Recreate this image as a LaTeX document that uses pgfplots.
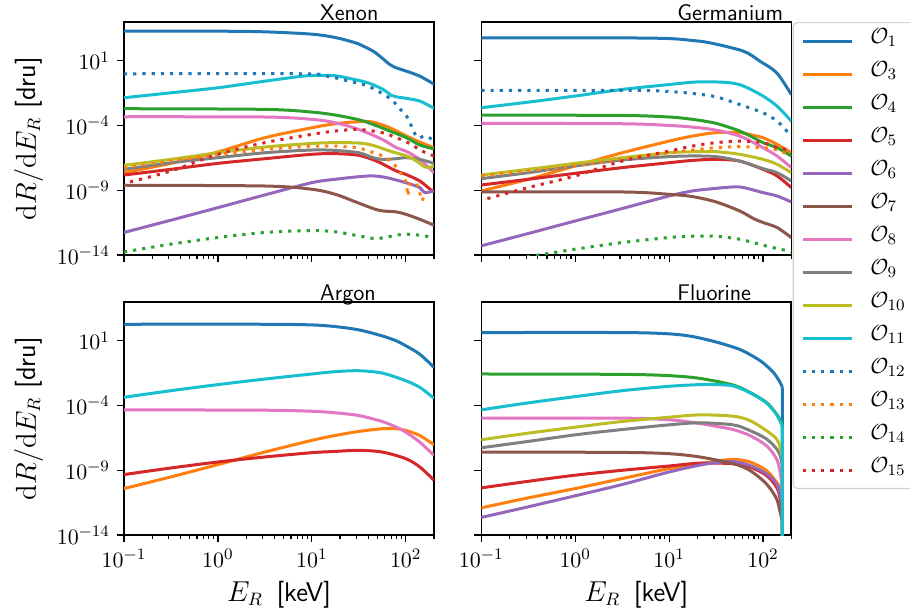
\documentclass[border=0pt]{standalone}
\usepackage{pgfplots}
\pgfplotsset{compat=1.18}

\definecolor{c0}{HTML}{1F77B4}
\definecolor{c1}{HTML}{FF7F0E}
\definecolor{c2}{HTML}{2CA02C}
\definecolor{c3}{HTML}{D62728}
\definecolor{c4}{HTML}{9467BD}
\definecolor{c5}{HTML}{8C564B}
\definecolor{c6}{HTML}{E377C2}
\definecolor{c7}{HTML}{7F7F7F}
\definecolor{c8}{HTML}{BCBD22}
\definecolor{c9}{HTML}{17BECF}

\newcommand{\ticksize}{\fontsize{11}{13}\selectfont}
\newcommand{\labelsize}{\fontsize{13.5}{16}\selectfont}

\tikzset{dotline/.style={dash pattern=on 1.6pt off 3pt}}

\pgfplotsset{
  every axis/.append style={
    scale only axis, width=155pt, height=116.5pt,
    xmin=0.1, xmax=200, ymin=1e-14, ymax=1e4,
    xtick={0.1,1,10,100},
    minor xtick={0.2,0.3,0.4,0.5,0.6,0.7,0.8,0.9,2,3,4,5,6,7,8,9,20,30,40,50,60,70,80,90,200},
    ytick={1e-14,1e-9,1e-4,1e1},
    yminorticks=false,
    tick pos=left, tick align=outside,
    major tick length=3.5pt, minor tick length=2pt,
    every tick/.style={black, line width=0.6pt},
    axis line style={line width=0.8pt},
    tick label style={font=\ticksize},
    every axis title/.style={at={(0.61,1)}, anchor=base west, yshift=0.6pt,
                 font=\sffamily\fontsize{11.3}{13}\selectfont},
    label style={font=\labelsize},
  },
  every axis plot/.append style={line width=1.5pt, line join=round, smooth, tension=0.5},
}

\newcommand{\ylab}{$\mathrm{d}R/\mathrm{d}E_R$ \textsf{[dru]}}
\newcommand{\xlab}{$E_R$\hspace{0.5em}\textsf{[keV]}}

\begin{document}
\begin{tikzpicture}

% ---------------- Xenon ----------------
\begin{loglogaxis}[ylabel={\ylab}, at={(62pt,178.5pt)}, anchor=south west,
  title={Xenon}, xticklabels={}]
\addplot[c0] coordinates {(0.1,1.95e3) (1,1.95e3) (3.16,1.74e3) (10,1.15e3) (17.8,631) (27.5,282) (31.6,200) (44.9,56.2) (57.4,14.1) (67.6,5.25) (79.4,2.88) (102,1.58) (141,0.661) (200,0.158)};
\addplot[c1] coordinates {(0.1,2.29e-8) (0.316,1.20e-7) (1,9.12e-7) (3.16,1.15e-5) (10,6.76e-5) (17.8,1.38e-4) (31.6,2.0e-4) (44.9,1.86e-4) (67.6,6.76e-5) (102,1.55e-5) (141,5.37e-6) (200,1.95e-6)};
\addplot[c2] coordinates {(0.1,2.0e-3) (3.16,1.78e-3) (10,1.10e-3) (17.8,6.46e-4) (31.6,2.82e-4) (44.9,1.23e-4) (67.6,3.80e-5) (102,1.15e-5) (141,3.16e-6) (200,1.58e-6)};
\addplot[c3] coordinates {(0.1,1.51e-8) (0.316,4.17e-8) (1,1.20e-7) (3.16,2.75e-7) (10,6.03e-7) (17.8,6.76e-7) (31.6,5.01e-7) (48.8,1.82e-7) (62.2,7.59e-8) (79.4,3.09e-8) (100,1.70e-8) (141,5.25e-9) (186,1.07e-9) (200,8.91e-10)};
\addplot[c4] coordinates {(0.1,5.50e-13) (0.316,4.90e-12) (1,4.57e-11) (3.16,4.37e-10) (10,3.89e-9) (17.8,7.08e-9) (31.6,1.12e-8) (44.9,1.29e-8) (62.2,9.55e-9) (100,3.89e-9) (141,1.62e-9) (159,6.61e-10) (200,8.91e-10)};
\addplot[c5] coordinates {(0.1,2.45e-9) (3.16,2.14e-9) (10,1.20e-9) (17.8,4.90e-10) (27.5,1.51e-10) (44.9,3.89e-11) (56.2,2.57e-11) (79.4,2.14e-11) (100,1.41e-11) (141,5.75e-12) (200,2.0e-12)};
\addplot[c6] coordinates {(0.1,4.79e-4) (3.16,4.57e-4) (10,3.02e-4) (17.8,1.66e-4) (31.6,5.01e-5) (56.2,8.51e-6) (79.4,1.95e-6) (100,1.07e-6) (141,2.45e-7) (200,2.29e-8)};
\addplot[c7] coordinates {(0.1,4.17e-8) (0.316,1.35e-7) (1,3.31e-7) (3.16,7.94e-7) (10,1.29e-6) (17.8,1.20e-6) (31.6,7.94e-7) (44.9,3.31e-7) (56.2,2.45e-7) (79.4,2.75e-7) (100,3.31e-7) (141,2.45e-7) (200,1.20e-7)};
\addplot[c8] coordinates {(0.1,8.51e-8) (0.316,2.45e-7) (1,7.94e-7) (3.16,2.19e-6) (10,4.17e-6) (17.8,4.79e-6) (31.6,4.47e-6) (44.9,2.95e-6) (67.6,1.07e-6) (102,4.47e-7) (130,1.82e-7) (153,7.59e-8) (173,5.62e-8) (200,7.59e-8)};
\addplot[c9] coordinates {(0.1,1.41e-2) (0.316,3.39e-2) (1,8.32e-2) (3.16,0.269) (8.1,0.661) (12.2,0.741) (17.8,0.708) (23.4,0.490) (39.8,0.200) (57.4,6.17e-2) (70.5,2.14e-2) (79.4,1.66e-2) (102,1.26e-2) (141,7.76e-3) (200,2.2e-3)};
\addplot[c0,dotline] coordinates {(0.1,1) (8.1,1) (14.3,0.661) (23.4,0.302) (39.8,0.112) (62.2,1.91e-2) (73.3,7.76e-3) (86.3,2.0e-3) (102,5.37e-4) (115,9.12e-5) (122,3.16e-5) (135,1.15e-5) (163,1.55e-5) (195,7.59e-6)};
\addplot[c1,dotline,sharp plot] coordinates {(0.1,5.62e-8) (0.316,1.82e-7) (1,6.03e-7) (3.16,1.45e-6) (10,2.63e-6) (17.8,2.63e-6) (31.6,1.95e-6) (57.4,4.47e-7) (73.3,1.35e-7) (90,1.70e-8) (102,3.89e-9) (105,3.63e-10) (110,2.88e-9) (130,3.89e-9) (150,1.51e-10) (160,6.61e-10)};
\addplot[c2,dotline] coordinates {(0.1,1.74e-14) (0.316,6.92e-14) (1,2.24e-13) (3.16,5.50e-13) (10,7.76e-13) (17.8,6.17e-13) (31.6,3.02e-13) (48.8,1.86e-13) (79.4,3.39e-13) (100,4.07e-13) (141,3.39e-13) (200,2.24e-13)};
\addplot[c3,dotline] coordinates {(0.116,4.37e-9) (0.316,3.09e-8) (1,6.03e-7) (3.16,4.79e-6) (10,2.09e-5) (17.8,3.80e-5) (31.6,5.01e-5) (56.2,2.82e-5) (79.4,1.15e-5) (115,3.55e-6) (141,1.29e-6) (200,4.47e-7)};
\end{loglogaxis}

% ---------------- Germanium ----------------
\begin{loglogaxis}[at={(240.65pt,178.5pt)}, anchor=south west,
  title={Germanium}, xticklabels={}, yticklabels={},
  legend cell align=left,
  legend image code/.code={\draw[#1,line width=1.5pt,sharp plot] (0pt,0pt) -- (24.5pt,0pt);},
  legend style={at={(1,1)}, anchor=north west, xshift=0.7pt,
    draw=black!18, line width=0.6pt, rounded corners=2pt, fill=white,
    font=\ticksize, inner xsep=4pt, inner ysep=3.2pt, row sep=4.5pt,
    nodes={inner sep=0.5pt, text height=6.8pt, text depth=4.2pt},
    /tikz/every odd column/.append style={column sep=8pt}},
  legend entries={$\mathcal{O}_{1}$,$\mathcal{O}_{3}$,$\mathcal{O}_{4}$,$\mathcal{O}_{5}$,$\mathcal{O}_{6}$,$\mathcal{O}_{7}$,$\mathcal{O}_{8}$,$\mathcal{O}_{9}$,$\mathcal{O}_{10}$,$\mathcal{O}_{11}$,$\mathcal{O}_{12}$,$\mathcal{O}_{13}$,$\mathcal{O}_{14}$,$\mathcal{O}_{15}$}]
\addplot[c0] coordinates {(0.1,589) (3.16,589) (10,525) (17.8,372) (27.3,245) (61.7,56.2) (92.9,9.33) (140,1.17) (200,2.51e-2)};
\addplot[c1] coordinates {(0.1,8.91e-10) (0.316,7.08e-9) (1,7.59e-8) (3.16,7.94e-7) (10,6.31e-6) (17.8,1.55e-5) (31.6,2.82e-5) (56.2,2.82e-5) (79.4,1.74e-5) (100,1.15e-5) (141,3.55e-6) (200,7.94e-7)};
\addplot[c2] coordinates {(0.1,6.46e-4) (3.16,6.03e-4) (10,4.57e-4) (17.8,3.02e-4) (31.6,1.48e-4) (56.2,3.80e-5) (79.4,1.15e-5) (100,4.79e-6) (141,1.95e-6) (200,4.47e-7)};
\addplot[c3] coordinates {(0.1,2.57e-9) (0.316,7.08e-9) (1,2.04e-8) (3.16,5.62e-8) (10,1.35e-7) (17.8,2.04e-7) (31.6,2.45e-7) (56.2,1.82e-7) (100,4.17e-8) (141,1.29e-8) (200,1.62e-9)};
\addplot[c4] coordinates {(0.1,5.13e-14) (0.316,4.57e-13) (1,4.27e-12) (3.16,3.89e-11) (10,3.63e-10) (17.8,8.91e-10) (31.6,1.41e-9) (48.8,1.82e-9) (62.2,1.62e-9) (100,6.61e-10) (141,3.63e-10) (200,1.26e-10)};
\addplot[c5] coordinates {(0.1,7.41e-10) (3.16,7.41e-10) (10,4.90e-10) (17.8,3.24e-10) (31.6,1.26e-10) (56.2,2.57e-11) (79.4,6.46e-12) (100,3.24e-12) (141,1.32e-12) (200,2.24e-13)};
\addplot[c6] coordinates {(0.1,1.48e-4) (3.16,1.38e-4) (10,1.02e-4) (17.8,7.59e-5) (31.6,4.47e-5) (56.2,1.55e-5) (79.4,4.79e-6) (100,1.95e-6) (141,4.47e-7) (200,5.62e-8)};
\addplot[c7] coordinates {(0.1,7.94e-9) (0.316,2.29e-8) (1,7.59e-8) (3.16,2.19e-7) (10,3.98e-7) (17.8,4.47e-7) (31.6,3.98e-7) (56.2,1.82e-7) (100,4.68e-8) (141,2.29e-8) (200,5.25e-9)};
\addplot[c8] coordinates {(0.1,1.51e-8) (0.316,4.17e-8) (1,1.20e-7) (3.16,3.31e-7) (10,7.94e-7) (17.8,9.55e-7) (31.6,9.55e-7) (56.2,6.03e-7) (100,2.45e-7) (141,1.02e-7) (200,2.29e-8)};
\addplot[c9] coordinates {(0.1,2.40e-3) (0.316,6.46e-3) (1,1.91e-2) (3.16,6.17e-2) (10,0.148) (17.8,0.224) (27.5,0.240) (44.9,0.200) (62.2,0.112) (100,1.91e-2) (141,3.16e-3) (200,2.24e-4)};
\addplot[c0,dotline] coordinates {(0.1,5.13e-2) (4.6,5.13e-2) (10,4.27e-2) (17.8,3.02e-2) (31.6,1.66e-2) (56.2,4.27e-3) (79.4,1.78e-3) (100,9.77e-4) (141,2.24e-4) (200,1.55e-5)};
\addplot[c1,dotline] coordinates {(0.1,1.29e-8) (0.316,3.09e-8) (1,7.59e-8) (3.16,2.45e-7) (10,7.94e-7) (17.8,1.29e-6) (31.6,1.95e-6) (56.2,2.34e-6) (100,1.95e-6) (141,1.29e-6) (200,4.47e-7)};
\addplot[c2,dotline] coordinates {(0.1,2.51e-15) (0.316,7.59e-15) (1,2.82e-14) (3.16,9.12e-14) (10,2.24e-13) (17.8,2.82e-13) (31.6,2.82e-13) (56.2,1.66e-13) (100,5.75e-14) (141,3.16e-14) (200,1.86e-14)};
\addplot[c3,dotline] coordinates {(0.116,2.29e-10) (0.316,1.62e-9) (1,1.29e-8) (3.16,1.82e-7) (10,1.07e-6) (17.8,2.63e-6) (31.6,4.79e-6) (56.2,6.31e-6) (100,4.79e-6) (141,1.95e-6) (200,1.26e-6)};
\end{loglogaxis}

% ---------------- Argon ----------------
\begin{loglogaxis}[ylabel={\ylab}, xlabel={\xlab}, at={(62pt,38.5pt)}, anchor=south west,
  title={Argon}]
\addplot[c0] coordinates {(0.1,191) (3.16,191) (10,170) (17.8,126) (31.6,70.8) (56.2,24.0) (79.4,10.0) (100,4.17) (141,0.933) (200,8.91e-2)};
\addplot[c1] coordinates {(0.1,3.89e-11) (0.316,3.09e-10) (1,2.75e-9) (3.16,2.57e-8) (10,2.04e-7) (17.8,4.90e-7) (31.6,1.0e-6) (56.2,1.62e-6) (79.4,1.62e-6) (100,1.20e-6) (141,4.90e-7) (200,9.33e-8)};
\addplot[c3] coordinates {(0.1,4.68e-10) (0.316,1.51e-9) (1,4.37e-9) (3.16,1.07e-8) (10,2.29e-8) (17.8,2.88e-8) (31.6,3.47e-8) (56.2,2.57e-8) (100,7.94e-9) (141,1.82e-9) (200,1.70e-10)};
\addplot[c6] coordinates {(0.1,4.68e-5) (3.16,4.37e-5) (10,3.63e-5) (17.8,2.75e-5) (31.6,1.70e-5) (56.2,5.89e-6) (79.4,2.14e-6) (100,8.91e-7) (141,1.51e-7) (200,1.41e-8)};
\addplot[c9] coordinates {(0.1,4.37e-4) (0.316,1.41e-3) (1,4.17e-3) (3.16,1.12e-2) (10,2.75e-2) (17.8,4.17e-2) (31.6,4.90e-2) (56.2,3.24e-2) (100,8.32e-3) (141,2.57e-3) (200,3.63e-4)};
\end{loglogaxis}

% ---------------- Fluorine ----------------
% each spectrum is drawn smooth up to the endpoint, then drops straight down
\begin{loglogaxis}[xlabel={\xlab}, at={(240.65pt,38.5pt)}, anchor=south west,
  title={Fluorine}, yticklabels={}]
\addplot[c0] coordinates {(0.1,43.7) (3.16,43.7) (10,34.7) (17.8,21.4) (31.3,8.32) (55.6,2.29) (78.9,0.617) (99,0.214) (129,3.63e-2) (152,6.17e-3) (160.5,2.57e-3)};
\addplot[c0,sharp plot,forget plot] coordinates {(160.5,2.57e-3) (161,1e-20)};
\addplot[c1] coordinates {(0.1,1.26e-12) (0.316,7.41e-12) (1,3.89e-11) (3.16,2.29e-10) (10,1.35e-9) (21.2,3.24e-9) (31.6,4.90e-9) (48,7.08e-9) (72,4.47e-9) (108,1.0e-9) (139,1.26e-10) (152,3.89e-11) (160.5,6.31e-12)};
\addplot[c1,sharp plot,forget plot] coordinates {(160.5,6.31e-12) (161,1e-20)};
\addplot[c2] coordinates {(0.1,2.75e-2) (3.16,2.57e-2) (10,2.04e-2) (21.2,1.26e-2) (48,3.89e-3) (72,1.07e-3) (108,1.82e-4) (139,2.29e-5) (160.5,3.89e-6)};
\addplot[c2,sharp plot,forget plot] coordinates {(160.5,3.89e-6) (161,1e-20)};
\addplot[c3] coordinates {(0.1,4.37e-11) (0.316,1.41e-10) (1,4.17e-10) (3.16,1.0e-9) (10,2.14e-9) (21.2,3.55e-9) (48,3.24e-9) (72,1.82e-9) (108,4.17e-10) (139,5.25e-11) (152,6.61e-12) (160.5,6.31e-13)};
\addplot[c3,sharp plot,forget plot] coordinates {(160.5,6.31e-13) (161,1e-20)};
\addplot[c4] coordinates {(0.1,2.29e-13) (0.316,1.51e-12) (1,1.07e-11) (3.16,7.94e-11) (10,7.41e-10) (21.2,2.51e-9) (31.6,3.89e-9) (48,4.68e-9) (72,2.40e-9) (108,5.50e-10) (139,9.33e-11) (152,1.20e-11) (160.5,2.51e-12)};
\addplot[c4,sharp plot,forget plot] coordinates {(160.5,2.51e-12) (161,1e-20)};
\addplot[c5] coordinates {(0.1,2.57e-8) (3.16,2.40e-8) (10,1.91e-8) (21.2,1.07e-8) (48,3.24e-9) (72,1.0e-9) (108,9.33e-11) (139,6.61e-12) (152,6.17e-13) (160.5,1e-13)};
\addplot[c5,sharp plot,forget plot] coordinates {(160.5,1e-13) (161,1e-20)};
\addplot[c6] coordinates {(0.1,1.07e-5) (3.16,1.07e-5) (10,7.94e-6) (17.8,5.01e-6) (31.6,2.51e-6) (48,1.41e-6) (72,4.90e-7) (108,8.32e-8) (139,7.94e-9) (152,7.41e-10) (160.5,3.16e-11)};
\addplot[c6,sharp plot,forget plot] coordinates {(160.5,3.16e-11) (161,1e-20)};
\addplot[c7] coordinates {(0.1,5.50e-8) (0.316,1.70e-7) (1,5.50e-7) (3.16,1.41e-6) (10,3.24e-6) (21.2,4.68e-6) (48,3.24e-6) (72,1.20e-6) (108,2.75e-7) (139,4.68e-8) (152,1.41e-8) (160.5,2.51e-9)};
\addplot[c7,sharp plot,forget plot] coordinates {(160.5,2.51e-9) (161,1e-20)};
\addplot[c8] coordinates {(0.1,2.29e-7) (0.316,7.41e-7) (1,2.14e-6) (3.16,5.89e-6) (10,1.26e-5) (21.2,1.91e-5) (48,1.51e-5) (72,7.08e-6) (108,1.20e-6) (139,2.75e-7) (152,6.17e-8) (160.5,1e-8)};
\addplot[c8,sharp plot,forget plot] coordinates {(160.5,1e-8) (161,1e-20)};
\addplot[c9] coordinates {(0.1,4.68e-5) (0.316,1.62e-4) (1,4.90e-4) (3.16,1.41e-3) (10,3.09e-3) (21.2,4.17e-3) (31.6,4.17e-3) (48,3.31e-3) (72,1.0e-3) (108,1.66e-4) (139,2.09e-5) (160.5,2.51e-6)};
\addplot[c9,sharp plot,forget plot] coordinates {(160.5,2.51e-6) (161,1e-20)};
\end{loglogaxis}

\pgfresetboundingbox
\path[use as bounding box] (0pt,0pt) rectangle (455pt,306pt);
\end{tikzpicture}
\end{document}
